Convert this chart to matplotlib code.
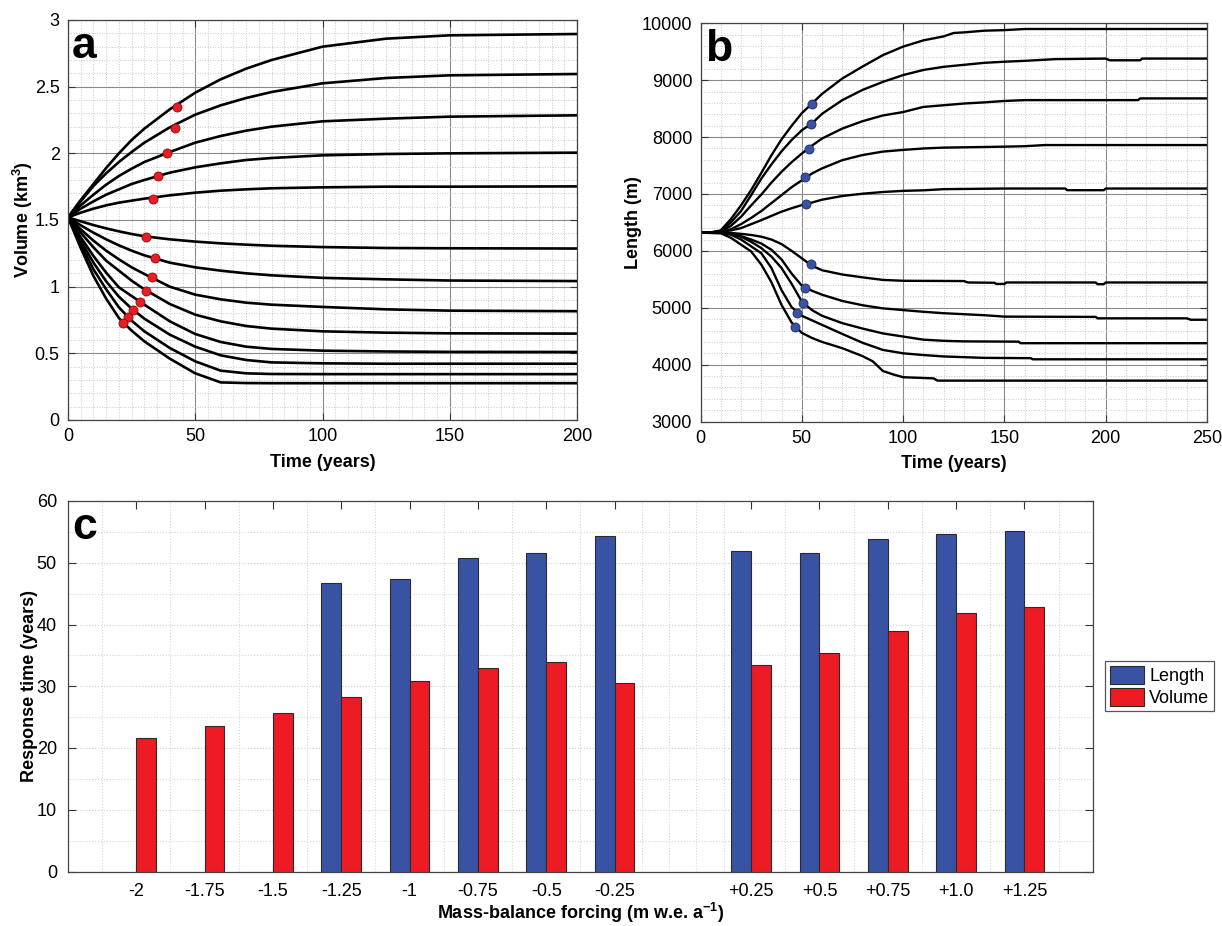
import numpy as np
import matplotlib
matplotlib.use('Agg')
import matplotlib.pyplot as plt
from matplotlib.ticker import MultipleLocator, FixedLocator, FormatStrFormatter

plt.rcParams['font.family'] = ['Liberation Sans', 'DejaVu Sans']
plt.rcParams['mathtext.fontset'] = 'custom'
plt.rcParams['mathtext.rm'] = 'Liberation Sans'
plt.rcParams['mathtext.bf'] = 'Liberation Sans:bold'

# =============================================
# Data
# =============================================

# panel a: glacier volume (km3) vs time (years)
time_a = [0, 5, 10, 15, 20, 25, 30, 40, 50, 60, 70, 80, 100, 125, 150, 200]
vol_p125 = [1.52, 1.65, 1.77, 1.89, 2.00, 2.10, 2.185, 2.33, 2.455, 2.555, 2.635, 2.70, 2.80, 2.86, 2.885, 2.895]
vol_p100 = [1.52, 1.64, 1.755, 1.85, 1.935, 2.01, 2.08, 2.195, 2.29, 2.36, 2.415, 2.46, 2.525, 2.565, 2.585, 2.595]
vol_p075 = [1.52, 1.61, 1.69, 1.765, 1.83, 1.885, 1.935, 2.01, 2.08, 2.13, 2.17, 2.20, 2.24, 2.26, 2.275, 2.285]
vol_p050 = [1.52, 1.585, 1.64, 1.69, 1.73, 1.77, 1.80, 1.855, 1.895, 1.925, 1.95, 1.965, 1.985, 1.995, 2.0, 2.005]
vol_p025 = [1.52, 1.555, 1.585, 1.61, 1.63, 1.645, 1.66, 1.685, 1.705, 1.72, 1.73, 1.738, 1.745, 1.75, 1.75, 1.752]
vol_m025 = [1.52, 1.49, 1.462, 1.437, 1.415, 1.395, 1.378, 1.355, 1.338, 1.325, 1.315, 1.307, 1.297, 1.29, 1.288, 1.286]
vol_m050 = [1.52, 1.46, 1.405, 1.355, 1.31, 1.27, 1.235, 1.18, 1.145, 1.12, 1.10, 1.085, 1.066, 1.055, 1.046, 1.042]
vol_m075 = [1.52, 1.43, 1.345, 1.27, 1.205, 1.145, 1.095, 1.0, 0.94, 0.905, 0.88, 0.865, 0.848, 0.83, 0.82, 0.816]
vol_m100 = [1.52, 1.405, 1.295, 1.195, 1.12, 1.045, 0.98, 0.87, 0.79, 0.74, 0.705, 0.685, 0.665, 0.655, 0.65, 0.648]
vol_m125 = [1.52, 1.37, 1.23, 1.105, 0.995, 0.93, 0.865, 0.74, 0.645, 0.585, 0.55, 0.533, 0.52, 0.514, 0.511, 0.51]
vol_m150 = [1.52, 1.345, 1.18, 1.04, 0.925, 0.835, 0.76, 0.64, 0.55, 0.485, 0.45, 0.432, 0.425, 0.422, 0.422, 0.422]
vol_m175 = [1.52, 1.32, 1.13, 0.98, 0.845, 0.745, 0.665, 0.54, 0.44, 0.37, 0.35, 0.345, 0.344, 0.344, 0.344, 0.344]
vol_m200 = [1.52, 1.29, 1.08, 0.91, 0.765, 0.67, 0.59, 0.46, 0.35, 0.282, 0.277, 0.276, 0.276, 0.276, 0.276, 0.276]

# volume at the response-time markers
vol_dot = [2.35, 2.19, 2.00, 1.83, 1.66, 1.375, 1.213, 1.07, 0.97, 0.887, 0.826, 0.775, 0.731]

# panel b: glacier length (m) vs time (years)
t_p125 = [0, 5, 10, 15, 20, 25, 30, 35, 40, 45, 50, 55, 60, 70, 80, 90, 100, 110, 120, 125, 130, 140, 150, 160, 250]
len_p125 = [6320, 6325, 6360, 6560, 6800, 7070, 7370, 7680, 7960, 8200, 8420, 8590, 8760, 9030, 9240, 9440, 9590, 9700, 9770, 9830, 9840, 9870, 9880, 9900, 9900]
t_p100 = [0, 5, 10, 15, 20, 25, 30, 35, 40, 45, 50, 55, 60, 70, 80, 90, 100, 110, 120, 130, 140, 150, 160, 175, 200, 202, 217, 218, 250]
len_p100 = [6320, 6325, 6350, 6500, 6700, 6980, 7270, 7520, 7750, 7950, 8120, 8240, 8410, 8650, 8830, 8970, 9090, 9180, 9235, 9270, 9305, 9325, 9340, 9370, 9380, 9350, 9350, 9380, 9380]
t_p075 = [0, 5, 10, 15, 20, 25, 30, 35, 40, 45, 50, 55, 60, 70, 80, 90, 100, 110, 120, 130, 140, 150, 160, 216, 217, 250]
len_p075 = [6320, 6325, 6340, 6440, 6600, 6800, 6990, 7200, 7390, 7560, 7710, 7850, 7975, 8150, 8280, 8380, 8440, 8530, 8560, 8590, 8610, 8635, 8650, 8650, 8680, 8680]
t_p050 = [0, 5, 10, 15, 20, 25, 30, 35, 40, 45, 50, 55, 60, 70, 80, 90, 100, 110, 120, 150, 160, 170, 250]
len_p050 = [6320, 6320, 6330, 6380, 6470, 6580, 6700, 6840, 6980, 7120, 7240, 7360, 7450, 7595, 7685, 7745, 7775, 7800, 7815, 7832, 7840, 7860, 7860]
t_p025 = [0, 5, 10, 15, 20, 25, 30, 35, 40, 45, 50, 55, 60, 70, 80, 90, 100, 110, 120, 150, 180, 181, 199, 200, 250]
len_p025 = [6320, 6320, 6330, 6360, 6400, 6470, 6540, 6615, 6690, 6750, 6805, 6850, 6900, 6965, 7005, 7035, 7055, 7065, 7085, 7096, 7096, 7067, 7067, 7096, 7096]
t_m025 = [0, 10, 15, 20, 25, 30, 35, 40, 45, 50, 55, 60, 70, 80, 90, 100, 130, 132, 145, 146, 150, 151, 195, 196, 199, 200, 250]
len_m025 = [6320, 6320, 6315, 6300, 6280, 6250, 6200, 6120, 6000, 5870, 5740, 5660, 5585, 5535, 5490, 5475, 5470, 5445, 5440, 5420, 5420, 5445, 5445, 5415, 5415, 5445, 5445]
t_m050 = [0, 10, 15, 20, 25, 30, 35, 40, 45, 50, 55, 60, 70, 80, 90, 100, 110, 120, 140, 150, 195, 196, 240, 242, 250]
len_m050 = [6320, 6320, 6300, 6260, 6200, 6130, 6020, 5850, 5600, 5390, 5300, 5230, 5120, 5045, 4990, 4960, 4930, 4905, 4870, 4845, 4840, 4815, 4815, 4790, 4790]
t_m075 = [0, 10, 15, 20, 25, 30, 35, 40, 45, 50, 55, 60, 70, 80, 90, 100, 110, 120, 130, 157, 158, 250]
len_m075 = [6320, 6320, 6295, 6250, 6160, 6050, 5900, 5700, 5420, 5110, 4960, 4860, 4730, 4635, 4550, 4495, 4440, 4420, 4410, 4405, 4378, 4378]
t_m100 = [0, 10, 15, 20, 25, 30, 35, 40, 45, 50, 55, 60, 70, 80, 90, 100, 110, 120, 140, 163, 164, 250]
len_m100 = [6320, 6315, 6285, 6200, 6080, 5960, 5700, 5310, 5010, 4860, 4780, 4700, 4540, 4385, 4260, 4200, 4170, 4145, 4120, 4115, 4095, 4095]
t_m125 = [0, 10, 15, 20, 25, 30, 35, 40, 45, 50, 55, 60, 70, 80, 85, 90, 95, 100, 115, 117, 250]
len_m125 = [6320, 6310, 6230, 6110, 5990, 5760, 5450, 5050, 4740, 4560, 4470, 4400, 4290, 4150, 4060, 3890, 3830, 3780, 3760, 3720, 3720]

# length at the response-time markers
len_dot = [8576, 8225, 7797, 7293, 6819, 5764, 5343, 5091, 4915, 4669]

# panel c: response times (years)
forcing = ['-2', '-1.75', '-1.5', '-1.25', '-1', '-0.75', '-0.5', '-0.25',
           '+0.25', '+0.5', '+0.75', '+1.0', '+1.25']
resp_length = [np.nan, np.nan, np.nan, 46.7, 47.4, 50.7, 51.5, 54.3,
               51.9, 51.5, 53.8, 54.6, 55.1]
resp_volume = [21.7, 23.5, 25.6, 28.2, 30.8, 33.0, 34.0, 30.5,
               33.4, 35.4, 39.0, 41.9, 42.8]

# =============================================
# Figure
# =============================================

RED = '#ed1c24'
BLUE = '#3953a4'
fig = plt.figure(figsize=(12.22, 9.26), dpi=100)

def style_axes(ax):
    ax.tick_params(which='major', direction='in', top=True, right=True,
                   length=5, width=0.8, labelsize=13, pad=6, color='#333333')
    ax.tick_params(which='minor', length=0)
    ax.grid(which='major', color='#8a8a8a', lw=0.8, ls='-')
    ax.grid(which='minor', color='#c8c8c8', lw=0.7, ls=':')
    ax.set_axisbelow(True)
    for s in ax.spines.values():
        s.set_color('#444444')
        s.set_linewidth(0.9)

# ---------------- panel a
axa = fig.add_axes([68/1222, 1-420/926, 509/1222, 400/926])
vols = [vol_p125, vol_p100, vol_p075, vol_p050, vol_p025,
        vol_m025, vol_m050, vol_m075, vol_m100, vol_m125, vol_m150, vol_m175, vol_m200]
for v in vols:
    axa.plot(time_a, v, color='black', lw=1.9, solid_capstyle='butt')
# marker times are the volume response times (order +1.25 ... -2)
t_dot_a = resp_volume[::-1]
axa.plot(t_dot_a, vol_dot, 'o', ms=6.5, mfc=RED, mec='#7a1010', mew=0.6, zorder=5)
axa.set_xlim(0, 200)
axa.set_ylim(0, 3)
axa.xaxis.set_major_locator(MultipleLocator(50))
axa.xaxis.set_minor_locator(MultipleLocator(5))
axa.yaxis.set_major_locator(MultipleLocator(0.5))
axa.yaxis.set_minor_locator(MultipleLocator(0.1))
axa.yaxis.set_major_formatter(FormatStrFormatter('%g'))
style_axes(axa)
axa.set_xlabel('Time (years)', fontsize=13, fontweight='bold', labelpad=6)
axa.set_ylabel('Volume (km$^\\mathbf{3}$)', fontsize=13, fontweight='bold', labelpad=0)
axa.text(0.008, 0.985, 'a', transform=axa.transAxes, fontsize=32,
         fontweight='bold', va='top', ha='left')

# ---------------- panel b
axb = fig.add_axes([700.5/1222, 1-421.6/926, 506.5/1222, 398.3/926])
lens = [(t_p125, len_p125), (t_p100, len_p100), (t_p075, len_p075),
        (t_p050, len_p050), (t_p025, len_p025), (t_m025, len_m025),
        (t_m050, len_m050), (t_m075, len_m075), (t_m100, len_m100),
        (t_m125, len_m125)]
for tt, ll in lens:
    axb.plot(tt, ll, color='black', lw=1.7)
t_dot_b = [resp_length[i] for i in [12, 11, 10, 9, 8, 7, 6, 5, 4, 3]]
axb.plot(t_dot_b, len_dot, 'o', ms=6.5, mfc=BLUE, mec='#1d2b5e', mew=0.6, zorder=5)
axb.set_xlim(0, 250)
axb.set_ylim(3000, 10000)
axb.xaxis.set_major_locator(MultipleLocator(50))
axb.xaxis.set_minor_locator(MultipleLocator(10))
axb.yaxis.set_major_locator(MultipleLocator(1000))
axb.yaxis.set_minor_locator(MultipleLocator(200))
style_axes(axb)
axb.set_xlabel('Time (years)', fontsize=13, fontweight='bold', labelpad=6)
axb.set_ylabel('Length (m)', fontsize=13, fontweight='bold', labelpad=0)
axb.text(0.008, 0.985, 'b', transform=axb.transAxes, fontsize=32,
         fontweight='bold', va='top', ha='left')

# ---------------- panel c
axc = fig.add_axes([68/1222, 1-871.5/926, 1024.7/1222, 370.5/926])
pos = np.array([1, 2, 3, 4, 5, 6, 7, 8, 10, 11, 12, 13, 14])
w = 0.29
axc.bar(pos - w/2, resp_length, width=w, color=BLUE, edgecolor='#2a2a2a',
        lw=0.8, label='Length', zorder=3)
axc.bar(pos + w/2, resp_volume, width=w, color=RED, edgecolor='#2a2a2a',
        lw=0.8, label='Volume', zorder=3)
axc.set_xlim(0, 15)
axc.set_ylim(0, 60)
axc.set_xticks(pos)
axc.set_xticklabels(forcing)
axc.yaxis.set_major_locator(MultipleLocator(10))
axc.yaxis.set_minor_locator(MultipleLocator(5))
axc.xaxis.set_minor_locator(FixedLocator([0.5, 1.5, 2, 2.5, 3, 3.5, 4.5, 5.5, 6.5, 7.5,
                                          8.4, 8.8, 9.2, 9.6, 10.5, 11.5, 12.5, 13.5, 14.5]))
axc.tick_params(which='major', direction='in', top=True, right=True,
                length=6, width=0.8, labelsize=13, pad=8, color='#333333')
axc.tick_params(which='minor', length=0)
axc.grid(which='major', axis='y', color='#cfcfcf', lw=0.8, ls=':')
axc.grid(which='minor', color='#d5d5d5', lw=0.8, ls=':')
axc.set_axisbelow(True)
for s in axc.spines.values():
    s.set_color('#444444')
    s.set_linewidth(0.9)
axc.set_xlabel('Mass-balance forcing (m w.e. a$^{\\mathbf{-1}}$)', fontsize=13,
               fontweight='bold', labelpad=1)
axc.set_ylabel('Response time (years)', fontsize=13, fontweight='bold', labelpad=-1)
axc.text(0.004, 0.985, 'c', transform=axc.transAxes, fontsize=32,
         fontweight='bold', va='top', ha='left')
leg = axc.legend(loc='upper left', bbox_to_anchor=(1105/1222, 1-661/926),
                 bbox_transform=fig.transFigure, fontsize=13, fancybox=False,
                 edgecolor='#555555', framealpha=1, borderpad=0.25,
                 labelspacing=0.15, handlelength=1.9, handleheight=1.2,
                 handletextpad=0.3, borderaxespad=0)
leg.get_frame().set_linewidth(0.9)

fig.savefig('out.png', dpi=100)
